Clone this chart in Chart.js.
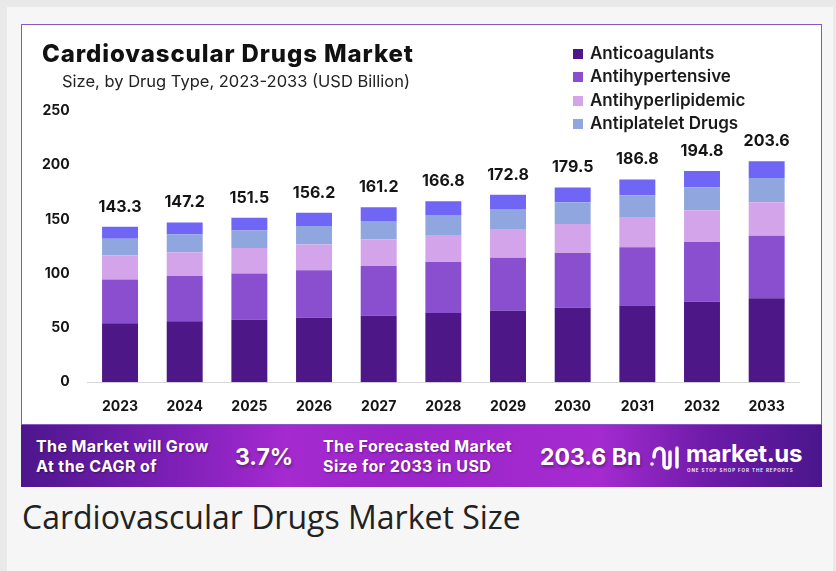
<!DOCTYPE html>
<html>
<head>
<meta charset="utf-8">
<script src="https://cdn.jsdelivr.net/npm/chart.js@4.4.1/dist/chart.umd.min.js"></script>
<style>
  html, body { margin: 0; padding: 0; }
  body { width: 836px; height: 571px; background: #e9e9e9; position: relative; overflow: hidden; font-family: Inter, sans-serif; }
  #panel { position: absolute; left: 7px; top: 7px; width: 826px; height: 570px; background: #f6f6f6; }
  #box { position: absolute; left: 21px; top: 24px; width: 799px; height: 399px; background: #fff; border: 1px solid #8d55c2; }
  #box canvas { position: absolute; left: 0; top: 0; }
  #title { position: absolute; left: 20px; top: 14px; font: 800 24px Inter, sans-serif; letter-spacing: 0.9px; color: #111; white-space: nowrap; }
  #subtitle { position: absolute; left: 40px; top: 46px; font: 400 16.5px Inter, sans-serif; color: #222; white-space: nowrap; }
  #legend { position: absolute; left: 551px; top: 17px; font: 600 17px Inter, sans-serif; color: #1a1a1a; }
  #legend div { height: 23.3px; line-height: 23.3px; white-space: nowrap; }
  #legend span { display: inline-block; width: 10px; height: 10px; margin-right: 7px; }
  #banner { position: absolute; left: 21px; top: 425px; width: 801px; height: 62px;
    background: linear-gradient(90deg, #4d168d 0%, #7a1fb5 18%, #a52ad0 33%, #9a25c8 48%, #a52bd0 72%, #6c1ba8 86%, #4a168c 100%);
    color: #fff; }
  #banner .t { position: absolute; font: 700 16px Inter, sans-serif; letter-spacing: 0.4px; line-height: 20px; text-shadow: 1px 1px 2px rgba(0,0,0,0.35); white-space: nowrap; }
  #banner .big { position: absolute; font: 700 23px Inter, sans-serif; text-shadow: 1px 2px 3px rgba(0,0,0,0.35); white-space: nowrap; }
  #logo { position: absolute; left: 665px; top: 14px; font: 700 24px Inter, sans-serif; letter-spacing: -0.3px; }
  #tag { position: absolute; left: 666px; top: 43px; font: 700 4.5px Inter, sans-serif; letter-spacing: 0.95px; opacity: 0.9; white-space: nowrap; }
  #caption { position: absolute; left: 22px; top: 495px; font: 400 32px "Open Sans", sans-serif; color: #222; white-space: nowrap; }
</style>
</head>
<body>
<div id="panel"></div>
<div id="box">
  <canvas id="chart" width="799" height="414"></canvas>
  <div id="title">Cardiovascular Drugs Market</div>
  <div id="subtitle">Size, by Drug Type, 2023-2033 (USD Billion)</div>
  <div id="legend"></div>
</div>
<div id="banner">
  <div class="t" style="left:15px; top:11px;">The Market will Grow<br>At the CAGR of</div>
  <div class="big" style="left:214px; top:18px;">3.7%</div>
  <div class="t" style="left:302px; top:11px;">The Forecasted Market<br>Size for 2033 in USD</div>
  <div class="big" style="left:519px; top:18px;">203.6 Bn</div>
  <svg style="position:absolute; left:628px; top:17px;" width="34" height="30" viewBox="0 0 34 30">
    <path d="M5 15 C5 4, 15 4, 15 12 L15 23 C15 27, 21 27, 21 23 L21 10" fill="none" stroke="#fff" stroke-width="3.5" stroke-linecap="round"/>
    <path d="M28 6 L28 25" fill="none" stroke="#fff" stroke-width="3.5" stroke-linecap="round"/>
    <circle cx="3" cy="22" r="1.8" fill="#fff"/>
  </svg>
  <div id="logo">market.us</div>
  <div id="tag">ONE STOP SHOP FOR THE REPORTS</div>
</div>
<div id="caption">Cardiovascular Drugs Market Size</div>

<script>
// years on the x axis
var years = ['2023','2024','2025','2026','2027','2028','2029','2030','2031','2032','2033'];
// totals printed above bars
var totals = [143.3, 147.2, 151.5, 156.2, 161.2, 166.8, 172.8, 179.5, 186.8, 194.8, 203.6];

// segments (USD Bn)
var anticoagulants   = [54.4, 56.3, 57.6, 59.4, 61.3, 63.7, 65.9, 68.6, 70.8, 74.2, 77.5];
var antihypertensive = [40.3, 41.5, 42.7, 43.9, 45.8, 47.0, 48.9, 50.4, 53.5, 55.0, 57.6];
var antihyperlipid   = [22.1, 22.1, 23.3, 23.7, 24.4, 24.9, 25.8, 26.8, 28.0, 29.2, 30.7];
var antiplatelet     = [15.4, 16.3, 16.3, 16.9, 17.2, 18.5, 19.0, 20.0, 20.0, 21.2, 22.4];
var others           = [11.1, 11.0, 11.6, 12.3, 12.5, 12.7, 13.2, 13.7, 14.5, 15.2, 15.4];

var yTicks = [0, 50, 100, 150, 200, 250];

var colors = ['#4e1787', '#8a4fce', '#d3a4ea', '#8fa7de', '#6f66f6'];

var totalLabels = {
  id: 'totalLabels',
  afterDatasetsDraw: function(chart) {
    var ctx = chart.ctx;
    var last = chart.getDatasetMeta(chart.data.datasets.length - 1);
    ctx.save();
    ctx.font = '700 16px Inter, sans-serif';
    ctx.fillStyle = '#151515';
    ctx.textAlign = 'center';
    ctx.textBaseline = 'middle';
    for (var i = 0; i < last.data.length; i++) {
      var bar = last.data[i];
      ctx.fillText(totals[i].toFixed(1), bar.x, bar.y - 20);
    }
    ctx.restore();
  }
};

var chart = new Chart(document.getElementById('chart').getContext('2d'), {
  type: 'bar',
  data: {
    labels: years,
    datasets: [
      { label: 'Anticoagulants', data: anticoagulants, backgroundColor: colors[0] },
      { label: 'Antihypertensive', data: antihypertensive, backgroundColor: colors[1] },
      { label: 'Antihyperlipidemic', data: antihyperlipid, backgroundColor: colors[2] },
      { label: 'Antiplatelet Drugs', data: antiplatelet, backgroundColor: colors[3] },
      { label: 'Others', data: others, backgroundColor: colors[4] }
    ]
  },
  options: {
    responsive: false,
    animation: false,
    barPercentage: 0.556,
    categoryPercentage: 1,
    layout: { padding: { left: 2, right: 22, top: 86, bottom: 8 } },
    plugins: {
      legend: { display: false },
      tooltip: { enabled: false }
    },
    scales: {
      x: {
        stacked: true,
        grid: { display: false, drawTicks: false },
        border: { display: true, color: '#d8d8d8', width: 1 },
        ticks: { padding: 16, color: '#151515', font: { family: 'Inter', weight: '700', size: 14 } }
      },
      y: {
        stacked: true,
        min: 0, max: 250,
        afterBuildTicks: function(axis) { axis.ticks = yTicks.map(function(v){ return { value: v }; }); },
        grid: { display: false, drawTicks: false },
        border: { display: false },
        ticks: { padding: 18, color: '#151515', font: { family: 'Inter', weight: '700', size: 14 } }
      }
    }
  },
  plugins: [totalLabels]
});

// legend built from the chart's own datasets (first four only, like the source)
var legendEl = document.getElementById('legend');
chart.data.datasets.slice(0, 4).forEach(function(ds) {
  var row = document.createElement('div');
  row.innerHTML = '<span style="background:' + ds.backgroundColor + '"></span>' + ds.label;
  legendEl.appendChild(row);
});
</script>
</body>
</html>
